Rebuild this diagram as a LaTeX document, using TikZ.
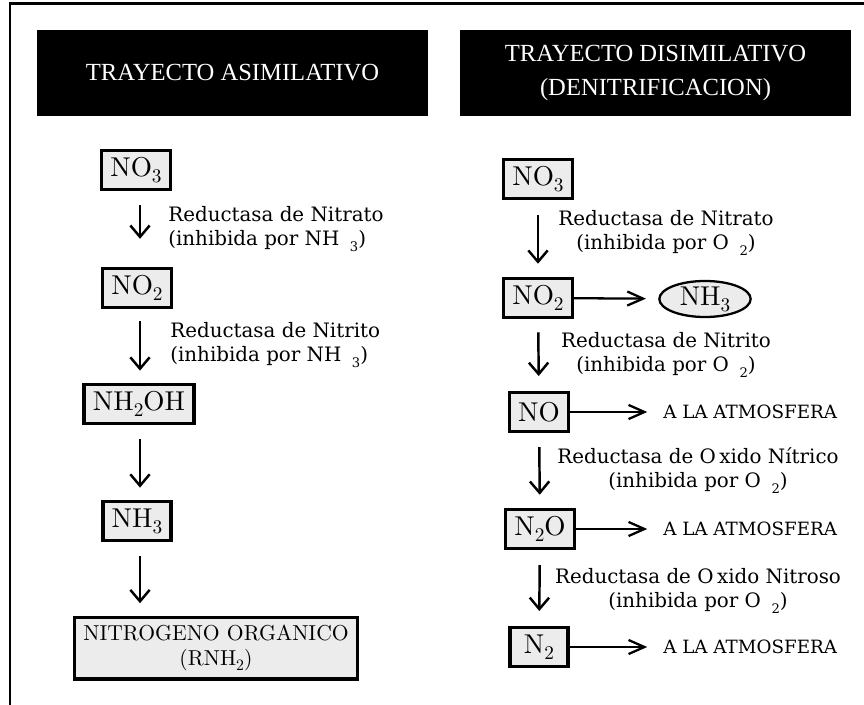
\documentclass[tikz,border=0pt]{standalone}
\usepackage{fontspec}
\usetikzlibrary{arrows.meta,shapes.geometric}
\newfontfamily\titlefont{Liberation Serif}
\newfontfamily\enzfont{DejaVu Serif}
\newfontfamily\chemfont[Extension=.otf]{lmroman10-regular}
\newcommand{\lowsub}[1]{\hspace{6pt}\raisebox{-3.5pt}{\fontsize{7.5}{8}\selectfont #1}}
\newcommand{\chsub}[1]{\raisebox{-3.5pt}{\fontsize{11}{12}\selectfont #1}}
\tikzset{
    hdr/.style={fill=black, text=white, minimum width=7.82cm, minimum height=1.72cm, align=center,
        font=\titlefont\fontsize{14}{19}\selectfont},
    chem/.style={draw, fill=gray!15, line width=2pt, inner xsep=5pt, minimum width=33pt, minimum height=22pt,
        font=\chemfont\fontsize{15.5}{18}\selectfont},
    enz/.style={font=\enzfont\fontsize{11.3}{13.6}\selectfont, inner sep=0pt},
    atm/.style={font=\enzfont\fontsize{10.4}{12}\selectfont, inner sep=0pt, anchor=west},
    vflow/.style={-{Straight Barb[length=6.5pt,width=11pt]}, line width=1.4pt},
    hflow/.style={-{Straight Barb[length=9pt,width=8pt]}, line width=1.3pt}
}
\begin{document}
\begin{tikzpicture}[x=0.02cm, y=-0.02cm]
    \useasboundingbox (0,0) rectangle (864,705);
    \draw[line width=1.7pt] (864,4) -- (10,4) -- (10,705);

    \node[hdr] (hasim) at (232.5,73) {TRAYECTO ASIMILATIVO};
    \node[hdr] (hdisim) at (655.5,73) {TRAYECTO DISIMILATIVO\\(DENITRIFICACION)};

    \node[chem] (ano3) at (136,170) {NO\chsub{3}};
    \node[chem] (ano2) at (137,288) {NO\chsub{2}};
    \node[chem] (anh2oh) at (139,404) {NH\chsub{2}OH};
    \node[chem] (anh3) at (137,521) {NH\chsub{3}};
    \node[chem, minimum width=158pt, minimum height=35pt, align=center, font=\chemfont\fontsize{12.3}{14.5}\selectfont]
        (aorg) at (216,648) {NITROGENO ORGANICO\\(RNH\raisebox{-2.5pt}{\fontsize{9}{10}\selectfont 2})};

    \draw[vflow, shorten <=8pt, shorten >=16pt] (ano3.south -| 140,0) -- (ano2.north -| 140,0);
    \draw[vflow, shorten <=7pt, shorten >=7pt] (ano2.south -| 140,0) -- (anh2oh.north -| 140,0);
    \draw[vflow, shorten <=8pt, shorten >=7pt] (anh2oh.south -| 140,0) -- (anh3.north -| 140,0);
    \draw[vflow, shorten <=8pt, shorten >=7pt] (anh3.south -| 140,0) -- (aorg.north -| 140,0);

    \node[enz, anchor=west, align=left] (aenz1) at (168,229) {Reductasa de Nitrato\\(inhibida por NH\lowsub{3})};
    \node[enz, anchor=west, align=left] (aenz2) at (170,345) {Reductasa de Nitrito\\(inhibida por NH\lowsub{3})};

    \node[chem] (dno3) at (538,179) {NO\chsub{3}};
    \node[chem] (dno2) at (538,298) {NO\chsub{2}};
    \node[chem] (dno) at (539,412) {NO};
    \node[chem] (dn2o) at (540,529) {N\chsub{2}O};
    \node[chem] (dn2) at (539,647) {N\chsub{2}};
    \node[ellipse, draw, fill=gray!15, line width=1.3pt, inner sep=0pt, minimum width=52pt, minimum height=20.5pt,
        font=\chemfont\fontsize{15.5}{18}\selectfont] (dnh3) at (705,299) {NH\chsub{3}};

    \draw[vflow, shorten <=8.5pt, shorten >=7.5pt] (dno3) -- (dno2);
    \draw[vflow, shorten <=7.5pt, shorten >=8.5pt] (dno2) -- (dno);
    \draw[vflow, shorten <=8pt, shorten >=7.5pt] (dno) -- (dn2o);
    \draw[vflow, shorten <=8.5pt, shorten >=8.5pt] (dn2o) -- (dn2);
    \draw[hflow, shorten >=7pt] (dno2) -- (dnh3);

    \node[enz, align=center] (denz1) at (666,233) {Reductasa de Nitrato\\(inhibida por O\lowsub{2})};
    \node[enz, align=center] (denz2) at (666,355) {Reductasa de Nitrito\\(inhibida por O\lowsub{2})};
    \node[enz, align=center] (denz3) at (698,471) {Reductasa de O\hspace{2pt}xido Nítrico\\(inhibida por O\lowsub{2})};
    \node[enz, align=center] (denz4) at (698,591) {Reductasa de O\hspace{2pt}xido Nitroso\\(inhibida por O\lowsub{2})};

    \foreach \s/\y in {dno/412, dn2o/529, dn2/647} {
        \node[atm] (atm-\s) at (663,\y) {A LA ATMOSFERA};
        \draw[hflow, shorten >=9pt] (\s) -- (atm-\s.west);
    }
\end{tikzpicture}
\end{document}
